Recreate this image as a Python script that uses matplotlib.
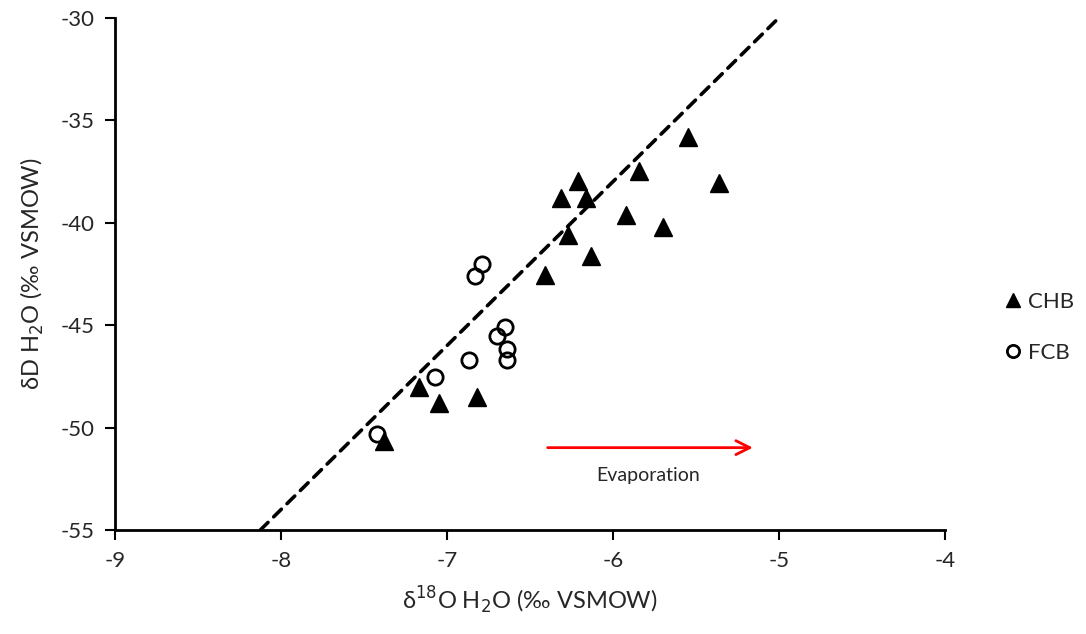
import numpy as np
import matplotlib.pyplot as plt

plt.rcParams['font.family'] = ['Lato', 'DejaVu Sans']

# isotopic composition of water samples
chb_d18o = [-5.55, -5.84, -5.36, -6.21, -6.31, -6.16, -5.92, -5.70, -6.27,
            -6.13, -6.41, -7.17, -6.82, -7.05, -7.38]
chb_dd = [-35.8, -37.5, -38.05, -37.95, -38.8, -38.8, -39.65, -40.2, -40.6,
          -41.65, -42.55, -48.0, -48.5, -48.8, -50.65]

fcb_d18o = [-6.79, -6.83, -6.65, -6.70, -6.64, -6.64, -6.87, -7.07, -7.42]
fcb_dd = [-42.0, -42.6, -45.1, -45.55, -46.15, -46.7, -46.7, -47.55, -50.3]

# meteoric water line dD = 8*d18O + 10
gmwl_x = np.array([-8.125, -5.0])
gmwl_y = 8 * gmwl_x + 10

fig = plt.figure(figsize=(10.86, 6.34), dpi=100)
ax = fig.add_axes([0.106, 0.164, 0.764, 0.808])

ax.plot(gmwl_x, gmwl_y, color='black', ls=(0, (3, 2.2)), lw=2.6,
        dash_capstyle='round', zorder=1)
ax.plot(chb_d18o, chb_dd, ls='none', marker='^', ms=13, color='black',
        label='CHB', zorder=3)
ax.plot(fcb_d18o, fcb_dd, ls='none', marker='o', ms=11, mfc='none',
        mec='black', mew=2, label='FCB', zorder=3)

ax.annotate('', xy=(-5.14, -50.98), xytext=(-6.41, -50.98),
            arrowprops=dict(arrowstyle='->', color='red', lw=2,
                            mutation_scale=25))
ax.text(-5.79, -52.35, 'Evaporation', ha='center', va='center', fontsize=14,
        color='#262626')

ax.set_xlim(-9, -4)
ax.set_ylim(-55, -30)
ax.set_xticks([-9, -8, -7, -6, -5, -4])
ax.set_yticks([-55, -50, -45, -40, -35, -30])
ax.set_xticklabels(['-9', '-8', '-7', '-6', '-5', '-4'])
ax.set_yticklabels(['-55', '-50', '-45', '-40', '-35', '-30'])
ax.tick_params(direction='out', length=7, width=1.5, labelsize=16, pad=8,
               labelcolor='#262626')

for s in ['top', 'right']:
    ax.spines[s].set_visible(False)
for s in ['left', 'bottom']:
    ax.spines[s].set_linewidth(2)

ax.set_xlabel(r'δ$^{18}$O H$_2$O (‰ VSMOW)', fontsize=17, labelpad=10,
              color='#262626')
ax.set_ylabel(r'δD H$_2$O (‰ VSMOW)', fontsize=17, labelpad=10,
              color='#262626')

leg = ax.legend(loc='center left', bbox_to_anchor=(1.047, 0.395), frameon=False,
                fontsize=16, handlelength=0.8, handletextpad=0.3,
                labelspacing=1.4, markerscale=0.8)
for t in leg.get_texts():
    t.set_color('#262626')

fig.savefig('out.png')
